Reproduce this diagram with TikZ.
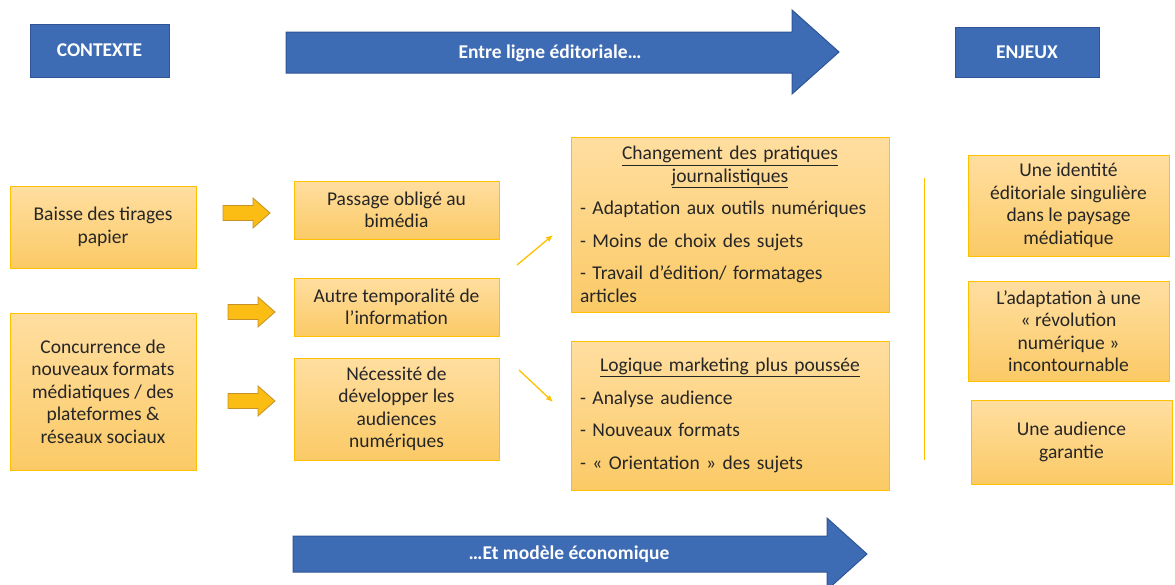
\documentclass[tikz,border=0pt]{standalone}
\usepackage{fontspec}
\setmainfont{Carlito}
\usetikzlibrary{calc}
\usetikzlibrary{arrows.meta}
\tikzset{>=latex}

\definecolor{bleu}{HTML}{3D6BB4}
\definecolor{bleubord}{HTML}{2F5597}
\definecolor{jauneH}{HTML}{FFDEA0}
\definecolor{jauneB}{HTML}{FBCA66}
\definecolor{jaunebord}{HTML}{FFC000}
\definecolor{flecheJ}{HTML}{FBBC14}
\definecolor{flechebord}{HTML}{C49228}
\definecolor{texte}{HTML}{262626}

\tikzset{
  titre/.style={fill=bleu, draw=bleubord, line width=1pt, text=white, inner sep=0pt,
    font=\fontsize{19.5}{22}\selectfont\bfseries},
  boite/.style={top color=jauneH, bottom color=jauneB, draw=jaunebord, line width=1pt,
    inner sep=0pt, align=center, text=texte, font=\fontsize{19.5}{22.5}\selectfont},
  grosse fleche/.style={fill=bleu, draw=bleubord, line width=1pt},
  petite fleche/.style={fill=flecheJ, draw=flechebord, line width=0.8pt},
  lien/.style={draw=jaunebord, line width=1.3pt, -{Latex[length=7pt,width=6pt]}},
}

% fleche jaune : point de depart (x,y)
\newcommand{\flechebloc}[2]{%
  \draw[petite fleche] (#1,#2-7.5) -- ++(30,0) -- ++(0,-7.5) -- ++(17,15)
    -- ++(-17,15) -- ++(0,-7.5) -- ++(-30,0) -- cycle;}

\begin{document}
\begin{tikzpicture}[x=1pt,y=-1pt]
  \useasboundingbox (0,0) rectangle (1175,584);

  % bandeaux
  \node[titre, minimum width=139pt, minimum height=53pt] (contexte) at (99.5,50.5) {CONTEXTE};
  \node[titre, minimum width=144pt, minimum height=50pt] (enjeux) at (1027,52) {ENJEUX};

  \draw[grosse fleche] (286,32) -- (792,32) -- (792,10) -- (839,52) -- (792,94) -- (792,73) -- (286,73) -- cycle;
  \node[text=white, font=\fontsize{19.5}{22}\selectfont\bfseries] (ligne) at (550,53) {Entre ligne éditoriale\dots};

  \draw[grosse fleche] (293,536) -- (827,536) -- (827,518) -- (867,554) -- (827,590) -- (827,572) -- (293,572) -- cycle;
  \node[text=white, font=\fontsize{19.5}{22}\selectfont\bfseries] (modele) at (569,554) {\dots Et modèle économique};

  % contexte
  \node[boite, minimum width=186pt, minimum height=82pt] (baisse) at (103,227)
    {Baisse des tirages\\papier};
  \node[boite, minimum width=186pt, minimum height=157pt] (concurrence) at (103,391.5)
    {Concurrence de\\nouveaux formats\\médiatiques / des\\plateformes \&\\réseaux sociaux};

  \flechebloc{223}{213}
  \flechebloc{228}{312}
  \flechebloc{228}{401}

  \node[boite, minimum width=205pt, minimum height=58pt] (passage) at (396.5,210)
    {Passage obligé au\\bimédia};
  \node[boite, minimum width=205pt, minimum height=58pt] (autre) at (396.5,307)
    {Autre temporalité de\\l’information};
  \node[boite, minimum width=205pt, minimum height=102pt] (necessite) at (396.5,409)
    {Nécessité de\\développer les\\audiences\\numériques};

  % pratiques
  \node[boite, minimum width=318pt, minimum height=175pt, text width=300pt, align=left] (changement) at (730,224.5)
    {{\centering\underline{Changement des pratiques}\\\underline{journalistiques}\par}
     \vspace{10pt}- Adaptation aux outils numériques\par
     \vspace{10pt}- Moins de choix des sujets\par
     \vspace{10pt}- Travail d’édition/ formatages\\articles};
  \node[boite, minimum width=318pt, minimum height=149pt, text width=300pt, align=left] (logique) at (730,415.5)
    {{\centering\underline{Logique marketing plus poussée}\par}
     \vspace{10pt}- Analyse audience\par
     \vspace{10pt}- Nouveaux formats\par
     \vspace{10pt}- « Orientation » des sujets};

  \coordinate (l1a) at (517,265);
  \coordinate (l1b) at (553,235);
  \coordinate (l2a) at (519,370);
  \coordinate (l2b) at (553,402);
  \draw[lien] (l1a) -- (l1b);
  \draw[lien] (l2a) -- (l2b);

  % separation
  \coordinate (sepH) at (924,178);
  \coordinate (sepB) at (924,460);
  \draw[jaunebord, line width=1pt] (sepH) -- (sepB);

  % enjeux
  \node[boite, minimum width=201pt, minimum height=101pt] (identite) at (1068.5,205.5)
    {Une identité\\éditoriale singulière\\dans le paysage\\médiatique};
  \node[boite, minimum width=201pt, minimum height=100pt] (adaptation) at (1068.5,331)
    {L’adaptation à une\\« révolution\\numérique »\\incontournable};
  \node[boite, minimum width=201pt, minimum height=84pt] (audience) at (1071.5,442)
    {Une audience\\garantie};
\end{tikzpicture}
\end{document}
